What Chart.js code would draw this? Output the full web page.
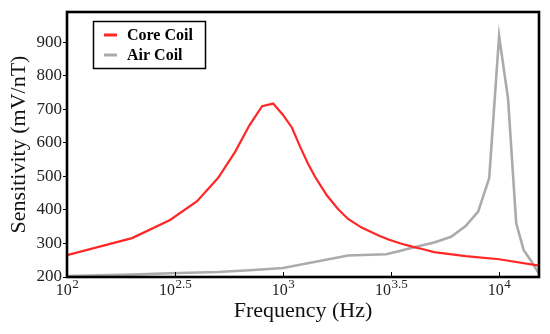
<!DOCTYPE html>
<html>
<head>
<meta charset="utf-8">
<script src="https://cdn.jsdelivr.net/npm/chart.js@4.4.1/dist/chart.umd.min.js"></script>
<style>
  html, body { margin: 0; padding: 0; background: #ffffff; }
  #wrap { width: 550px; height: 334px; }
</style>
</head>
<body>
<div id="wrap"><canvas id="c" width="550" height="334"></canvas></div>
<script>
// ---- data ----
const coreFreq = [100, 200, 300, 400, 500, 600, 700, 800, 900, 1000, 1100, 1200, 1300, 1400, 1500, 1600, 1800, 2000, 2300, 2500, 2800, 3100, 3500, 4000, 4500, 5000, 7000, 10000, 15300];
const coreSens = [265, 316, 370, 426, 495, 573, 653, 709, 717, 683, 645, 588, 540, 501, 470, 442, 402, 373, 348, 337, 322, 311, 300, 290, 282, 274, 262, 253, 234];

const airFreq = [100, 200, 300, 500, 700, 1000, 2000, 3000, 3500, 4000, 5000, 6000, 7000, 8000, 9000, 10000, 11000, 12000, 13000, 14000, 15300];
const airSens = [203, 207, 211, 215, 220, 227, 264, 268, 278, 288, 303, 320, 352, 395, 495, 918, 732, 360, 280, 250, 210];

const seriesLabels = ['Core Coil', 'Air Coil'];
const xTickValues = [100, 316.2278, 1000, 3162.278, 10000];
const xTickBase = '10';
const xTickExponents = ['2', '2.5', '3', '3.5', '4'];
const yTickValues = [200, 300, 400, 500, 600, 700, 800, 900];
const xTitle = 'Frequency (Hz)';
const yTitle = 'Sensitivity (mV/nT)';

const SERIF = '"Liberation Serif", "Times New Roman", serif';

const toPoints = (xs, ys) => xs.map((x, i) => ({ x: x, y: ys[i] }));

const decorPlugin = {
  id: 'decor',
  afterDatasetsDraw(chart) {
    const ctx = chart.ctx;
    const a = chart.chartArea;
    const xs = chart.scales.x;
    ctx.save();
    // x tick marks (inward)
    ctx.strokeStyle = '#000';
    ctx.lineWidth = 1;
    xTickValues.forEach(v => {
      const px = Math.round(xs.getPixelForValue(v)) + 0.5;
      ctx.beginPath();
      ctx.moveTo(px, a.bottom);
      ctx.lineTo(px, a.bottom - 5);
      ctx.stroke();
    });
    // frame
    ctx.lineWidth = 2.6;
    ctx.strokeStyle = '#000';
    ctx.strokeRect(a.left, a.top, a.right - a.left, a.bottom - a.top);
    // x tick labels with superscript exponents
    ctx.fillStyle = '#222';
    ctx.textBaseline = 'alphabetic';
    ctx.textAlign = 'left';
    xTickValues.forEach((v, i) => {
      const px = xs.getPixelForValue(v);
      ctx.font = '16px ' + SERIF;
      const wb = ctx.measureText(xTickBase).width;
      ctx.font = '13px ' + SERIF;
      const we = ctx.measureText(xTickExponents[i]).width;
      const start = px - (wb + we) / 2;
      ctx.font = '16px ' + SERIF;
      ctx.fillText(xTickBase, start, 295);
      ctx.font = '13px ' + SERIF;
      ctx.fillText(xTickExponents[i], start + wb + 0.5, 288);
    });
    // legend
    const lx = 93.5, ly = 21.5, lw = 112, lh = 47;
    ctx.fillStyle = '#fff';
    ctx.fillRect(lx, ly, lw, lh);
    ctx.lineWidth = 1.5;
    ctx.strokeStyle = '#000';
    ctx.strokeRect(lx, ly, lw, lh);
    const rows = [35, 55];
    chart.data.datasets.forEach((ds, i) => {
      ctx.strokeStyle = ds.borderColor;
      ctx.lineWidth = 3;
      ctx.beginPath();
      ctx.moveTo(104, rows[i]);
      ctx.lineTo(117, rows[i]);
      ctx.stroke();
      ctx.fillStyle = '#000';
      ctx.font = 'bold 16px ' + SERIF;
      ctx.textBaseline = 'middle';
      ctx.fillText(ds.label, 127, rows[i] + 1);
    });
    ctx.restore();
  }
};

new Chart(document.getElementById('c'), {
  type: 'line',
  data: {
    datasets: [
      {
        label: seriesLabels[0],
        data: toPoints(coreFreq, coreSens),
        borderColor: '#ff2626',
        borderWidth: 2.2,
        pointRadius: 0,
        tension: 0,
        fill: false
      },
      {
        label: seriesLabels[1],
        data: toPoints(airFreq, airSens),
        borderColor: '#ababab',
        borderWidth: 2.6,
        pointRadius: 0,
        tension: 0,
        fill: false
      }
    ]
  },
  plugins: [decorPlugin],
  options: {
    responsive: false,
    animation: false,
    layout: { padding: { top: 12, right: 11, left: 0, bottom: 0 } },
    plugins: {
      legend: { display: false },
      tooltip: { enabled: false }
    },
    scales: {
      x: {
        type: 'logarithmic',
        min: 100,
        max: 15300,
        afterBuildTicks(scale) { scale.ticks = xTickValues.map(v => ({ value: v })); },
        afterFit(scale) { scale.height = 57; },
        ticks: { display: false },
        grid: { display: false },
        border: { display: false },
        title: {
          display: true,
          text: xTitle,
          color: '#111',
          font: { family: SERIF, size: 22 },
          padding: { top: 0, bottom: 10 }
        }
      },
      y: {
        type: 'linear',
        min: 200,
        max: 990,
        afterBuildTicks(scale) { scale.ticks = yTickValues.map(v => ({ value: v })); },
        afterFit(scale) { scale.width = 67; },
        ticks: {
          color: '#222',
          padding: 1,
          font: { family: SERIF, size: 17 }
        },
        grid: {
          drawOnChartArea: false,
          drawTicks: true,
          tickLength: 4,
          color: '#000',
          lineWidth: 1
        },
        border: { display: false },
        title: {
          display: true,
          text: yTitle,
          color: '#111',
          font: { family: SERIF, size: 22 },
          padding: { top: 6, bottom: 0 }
        }
      }
    }
  }
});
</script>
</body>
</html>
